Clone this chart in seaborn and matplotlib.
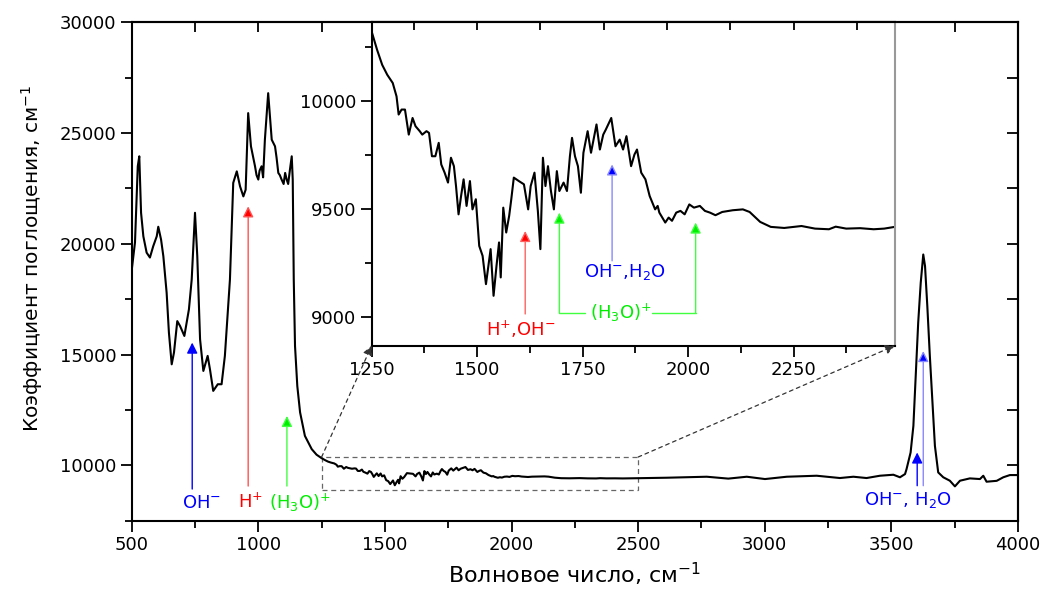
import numpy as np
import pandas as pd
import matplotlib
matplotlib.use("Agg")
import matplotlib.pyplot as plt
import seaborn as sns
from matplotlib.patches import Rectangle, ConnectionPatch
from matplotlib.ticker import MultipleLocator

sns.set_theme(style="white")
plt.rcParams['font.family'] = ['DejaVu Sans']
plt.rcParams['mathtext.fontset'] = 'dejavusans'
plt.rcParams['text.color'] = 'black'
plt.rcParams['axes.labelcolor'] = 'black'
plt.rcParams['xtick.color'] = 'black'
plt.rcParams['ytick.color'] = 'black'

# IR absorption spectrum
wavenumber = [
    500, 513, 524, 530, 537, 546, 559, 572, 585, 599, 605, 616, 625, 638, 647,
    658, 667, 680, 691, 708, 726, 737, 750, 759, 770, 783, 800, 809, 822, 840,
    855, 868, 888, 901, 915, 928, 941, 950, 960, 971, 987, 993, 1000, 1005, 1013,
    1019, 1026, 1039, 1053, 1066, 1072, 1079, 1085, 1092, 1100, 1106, 1112, 1118,
    1125, 1132, 1136, 1140, 1145, 1154, 1165, 1184, 1211, 1230,
    1250, 1263, 1275, 1287, 1300, 1309, 1314, 1321, 1329, 1338, 1347, 1354, 1364,
    1370, 1380, 1386, 1393, 1401, 1409, 1415, 1423, 1431, 1438, 1445, 1450, 1456,
    1462, 1468, 1475, 1483, 1489, 1497, 1505, 1513, 1521, 1532, 1539, 1546, 1552,
    1556, 1562, 1569, 1576, 1581, 1587, 1599, 1611, 1621, 1627, 1636, 1644, 1650,
    1656, 1662, 1668, 1675, 1682, 1689, 1695, 1705, 1713, 1720, 1725, 1732, 1739,
    1746, 1752, 1762, 1770, 1783, 1791, 1799, 1805, 1818, 1828, 1838, 1846, 1854,
    1865, 1873, 1879, 1889, 1899, 1909, 1922, 1928, 1932, 1946, 1954, 1962, 1972,
    1982, 1992, 2003, 2014, 2028, 2040, 2052, 2065, 2081, 2106, 2130, 2146, 2171,
    2196, 2228, 2269, 2301, 2334, 2350, 2375, 2408, 2440, 2465, 2490, 2507,
    2613, 2771, 2856, 2929, 3001, 3087, 3205, 3297, 3350, 3402, 3455, 3508, 3534,
    3554, 3560, 3576, 3587, 3597, 3606, 3616, 3626, 3633, 3642, 3652, 3663, 3672,
    3685, 3705, 3731, 3751, 3771, 3810, 3850, 3863, 3876, 3916, 3942, 3968, 4000,
]
absorption = [
    18800, 20060, 23500, 23950, 21400, 20340, 19600, 19380, 19890, 20340, 20770,
    20190, 19440, 17790, 15990, 14560, 15090, 16510, 16290, 15840, 17040, 18390,
    21400, 19440, 15690, 14260, 14940, 14340, 13360, 13660, 13660, 14940, 18390,
    22750, 23270, 22590, 22140, 22440, 25900, 24400, 23500, 23100, 22900, 23300,
    23500, 23000, 24700, 26800, 24700, 24400, 23900, 23200, 23100, 22900, 22700,
    23200, 22900, 22700, 23350, 23950, 22900, 18400, 15390, 13580, 12390, 11330,
    10730, 10480,
    10323, 10238, 10169, 10123, 10085, 10023, 9939, 9962, 9962, 9846, 9923, 9885,
    9862, 9846, 9862, 9854, 9746, 9746, 9808, 9708, 9670, 9624, 9739, 9700, 9608,
    9477, 9562, 9639, 9516, 9631, 9500, 9547, 9331, 9285, 9154, 9316, 9100, 9239,
    9347, 9185, 9508, 9393, 9470, 9547, 9647, 9631, 9616, 9500, 9608, 9670, 9493,
    9316, 9739, 9608, 9700, 9585, 9500, 9677, 9585, 9624, 9585, 9746, 9831, 9746,
    9700, 9577, 9762, 9862, 9762, 9893, 9777, 9846, 9869, 9923, 9792, 9823, 9777,
    9839, 9700, 9754, 9777, 9670, 9639, 9562, 9500, 9516, 9485, 9439, 9462, 9447,
    9485, 9493, 9477, 9523, 9508, 9516, 9493, 9485, 9473, 9488, 9496, 9500, 9488,
    9442, 9419, 9414, 9423, 9411, 9408, 9420, 9411, 9413, 9408, 9411, 9419, 9420,
    9440, 9485, 9400, 9485, 9380, 9485, 9530, 9426, 9485, 9426, 9530, 9575, 9460,
    9605, 9830, 10580, 11780, 14190, 16440, 18240, 19517, 18990, 17190, 14935,
    12680, 10880, 9680, 9460, 9305, 9050, 9305, 9410, 9380, 9530, 9260, 9300,
    9460, 9560, 9560,
]

# band assignments: (x, tail y, tip y, line colour, head colour)
main_arrows = [
    (739, 8930, 15540, '#0000ff', '#0000ff'),
    (960, 9065, 21690, '#ff5050', '#ff0000'),
    (1113, 9065, 12230, '#40ff40', '#00ee00'),
    (3602, 9080, 10580, '#0000ff', '#0000ff'),
    (3626, 9080, 15160, '#8888ff', '#0000ff'),
]
main_labels = [
    (774, 8320, 'OH$^{-}$', '#0000ff'),
    (971, 8320, 'H$^{+}$', '#ff0000'),
    (1165, 8320, '(H$_{3}$O)$^{+}$', '#00ee00'),
    (3564, 8440, 'OH$^{-}$, H$_{2}$O', '#0000ff'),
]
inset_arrows = [
    (1614, 9016, 9400, '#ff6060', '#ff0000'),
    (1695, 9020, 9485, '#40ff40', '#00ee00'),
    (2018, 9020, 9439, '#40ff40', '#00ee00'),
    (1820, 9262, 9708, '#8888ff', '#0000ff'),
]
inset_brackets = [(1695, 1755, 9020), (1914, 2018, 9020)]
inset_labels = [
    (1604, 8947, 'H$^{+}$,OH$^{-}$', '#ff0000'),
    (1840, 9020, '(H$_{3}$O)$^{+}$', '#00ee00'),
    (1851, 9209, 'OH$^{-}$,H$_{2}$O', '#0000ff'),
]

zoom_x = (1250, 2500)
zoom_y = (8874, 10374)

df = pd.DataFrame({"wavenumber": wavenumber, "absorption": absorption})

fig = plt.figure(figsize=(10.46, 5.94), dpi=100)
ax = fig.add_axes([0.1259, 0.1234, 0.8473, 0.8391])

sns.lineplot(data=df, x="wavenumber", y="absorption", ax=ax, color="black",
             lw=1.5, estimator=None, sort=False)
ax.set_xlim(500, 4000)
ax.set_ylim(7500, 30000)
ax.xaxis.set_major_locator(MultipleLocator(500))
ax.xaxis.set_minor_locator(MultipleLocator(250))
ax.yaxis.set_major_locator(MultipleLocator(5000))
ax.yaxis.set_minor_locator(MultipleLocator(2500))
ax.tick_params(which="major", direction="out", length=8, width=1.3, labelsize=13,
               colors="black", left=True, bottom=True, pad=3)
ax.tick_params(which="minor", direction="out", length=5, width=1.3,
               left=True, bottom=True)
ax.set_xlabel("Волновое число, см$^{-1}$", fontsize=16, labelpad=5)
ax.set_ylabel("Коэффициент поглощения, см$^{-1}$", fontsize=14.5)
ax.yaxis.set_label_coords(-0.098, 0.527)
for s in ax.spines.values():
    s.set_linewidth(1.5)
    s.set_color("black")

# inward ticks on top and right
top = ax.secondary_xaxis("top")
top.xaxis.set_major_locator(MultipleLocator(250))
top.tick_params(direction="in", length=7, width=1.3, labeltop=False)
top.spines["top"].set_linewidth(1.5)
right = ax.secondary_yaxis("right")
right.yaxis.set_major_locator(MultipleLocator(2500))
right.tick_params(direction="in", length=8, width=1.3, labelright=False)
right.spines["right"].set_linewidth(1.5)

for x, y0, y1, lc, hc in main_arrows:
    ax.annotate("", xy=(x, y1), xytext=(x, y0),
                arrowprops=dict(arrowstyle="-|>", ec=lc, fc=hc, lw=1,
                                mutation_scale=16, shrinkA=0, shrinkB=0))
for x, y, t, c in main_labels:
    ax.text(x, y, t, color=c, fontsize=13, ha="center", va="center")

# zoom box
ax.add_patch(Rectangle((zoom_x[0], zoom_y[0]), zoom_x[1] - zoom_x[0],
                       zoom_y[1] - zoom_y[0], fill=False, ec="#666666",
                       lw=0.9, ls=(0, (4, 3))))

# inset
axins = fig.add_axes([0.3553, 0.418, 0.5001, 0.5445])
sns.lineplot(data=df, x="wavenumber", y="absorption", ax=axins, color="black",
             lw=1.5, estimator=None, sort=False)
axins.set_xlim(1250, 2490)
axins.set_ylim(8869, 10366)
axins.xaxis.set_major_locator(MultipleLocator(250))
axins.xaxis.set_minor_locator(MultipleLocator(125))
axins.yaxis.set_major_locator(MultipleLocator(500))
axins.yaxis.set_minor_locator(MultipleLocator(250))
axins.tick_params(which="major", direction="out", length=8, width=1.3,
                  labelsize=13, colors="black", left=True, bottom=True, pad=3)
axins.tick_params(which="minor", direction="out", length=5, width=1.3,
                  left=True, bottom=True)
axins.set_xlabel("")
axins.set_ylabel("")
for s in axins.spines.values():
    s.set_linewidth(1.5)
    s.set_color("black")
axins.spines["right"].set_color("#999999")
itop = axins.secondary_xaxis("top")
itop.xaxis.set_major_locator(MultipleLocator(150))
itop.tick_params(direction="in", length=6, width=1.3, labeltop=False)
itop.spines["top"].set_linewidth(1.5)

for x, y0, y1, lc, hc in inset_arrows:
    axins.annotate("", xy=(x, y1), xytext=(x, y0),
                   arrowprops=dict(arrowstyle="-|>", ec=lc, fc=hc, lw=1,
                                   mutation_scale=16, shrinkA=0, shrinkB=0))
for x0, x1, y in inset_brackets:
    axins.plot([x0, x1], [y, y], color="#40ff40", lw=1)
for x, y, t, c in inset_labels:
    axins.text(x, y, t, color=c, fontsize=13, ha="center", va="center")

# dashed leaders from the zoom box to the inset corners
for xa, xb in [(zoom_x[0], 0), (zoom_x[1], 1)]:
    con = ConnectionPatch(xyA=(xa, zoom_y[1]), coordsA=ax.transData,
                          xyB=(xb, 0), coordsB=axins.transAxes,
                          arrowstyle="-|>", ls=(0, (3, 3)), color="#333333",
                          lw=0.9, mutation_scale=14, shrinkA=0, shrinkB=0)
    fig.add_artist(con)

fig.savefig("out.png", dpi=100)
